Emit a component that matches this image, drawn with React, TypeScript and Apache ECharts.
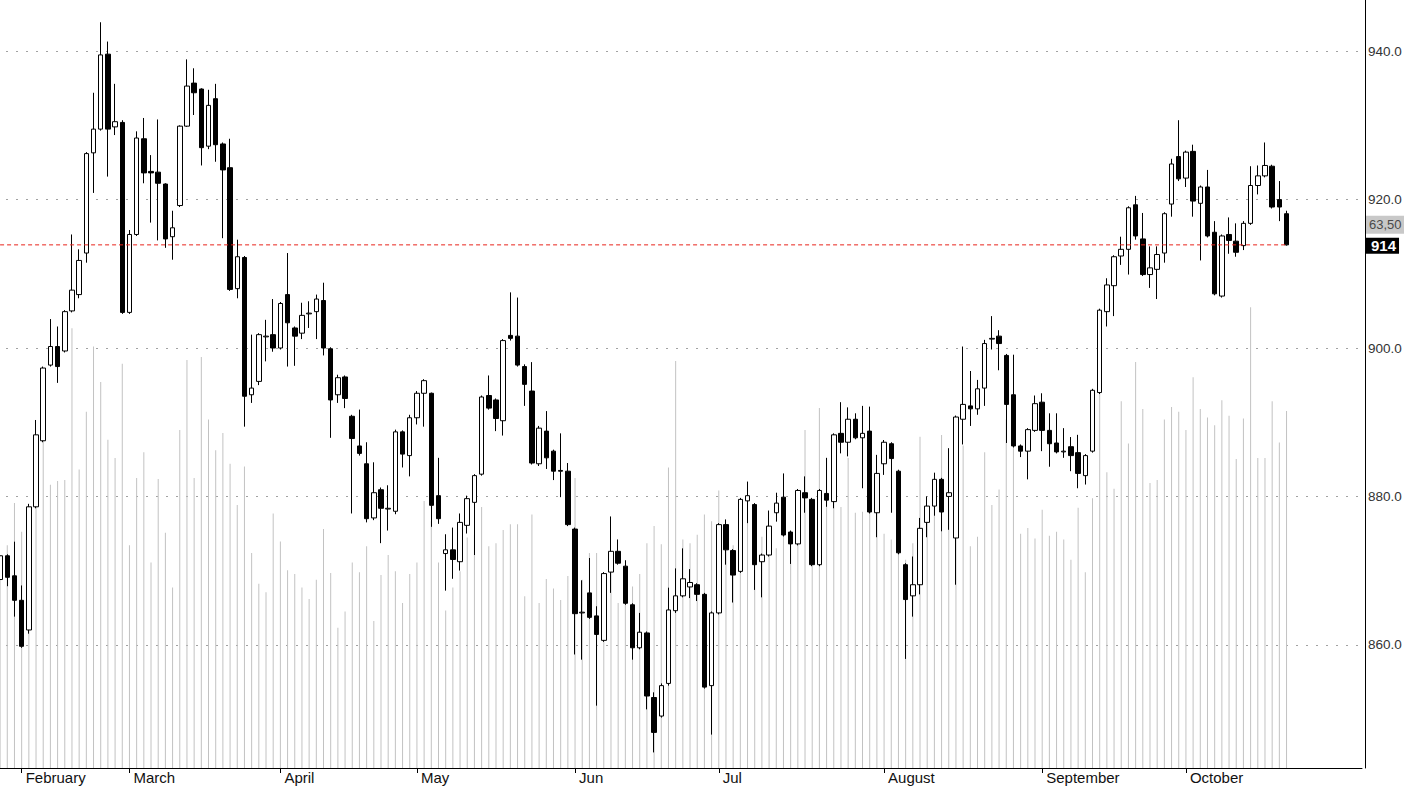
import React, { useEffect, useRef } from "react";
import * as echarts from "echarts";

// ---- data ----
const monthNames = ["January", "February", "March", "April", "May", "Jun", "Jul", "August", "September", "October"];
const monthCounts = [3, 15, 21, 19, 22, 20, 23, 22, 20, 15];

const opens = [
  868.8, 872.0, 869.3, 866.0, 862.0, 878.6, 887.5, 897.7, 900.2, 899.6,
  905.0, 907.2, 912.8, 926.3, 929.5, 939.6, 929.8, 930.4, 904.8, 915.3,
  928.2, 923.8, 923.7, 922.1, 915.0, 919.2, 929.9, 935.7, 934.9, 927.2,
  933.6, 927.5, 924.3, 908.0, 912.2, 893.7, 895.5, 901.5, 901.8, 900.0,
  907.2, 902.7, 902.0, 904.6, 904.9, 906.4, 899.9, 893.7, 896.1, 890.8,
  886.8, 884.4, 877.1, 880.9, 878.3, 878.0, 888.7, 885.5, 890.6, 893.9,
  893.9, 880.1, 872.3, 872.8, 871.2, 876.1, 879.2, 883.0, 893.6, 893.0,
  890.2, 901.7, 901.6, 897.5, 894.2, 884.4, 888.8, 886.1, 883.5, 883.4,
  875.6, 864.3, 867.0, 863.9, 860.6, 869.8, 872.6, 870.6, 865.4, 859.6,
  861.6, 852.9, 850.4, 854.8, 864.6, 866.6, 867.8, 868.1, 866.8, 854.5,
  864.3, 876.2, 872.7, 869.9, 879.4, 878.9, 871.2, 872.1, 877.8, 879.9,
  875.2, 873.6, 880.5, 879.6, 870.8, 880.4, 879.3, 888.5, 887.3, 890.4,
  887.9, 888.8, 877.8, 884.4, 887.1, 883.4, 870.8, 866.6, 868.1, 876.5,
  878.7, 882.3, 880.0, 874.4, 890.4, 892.2, 891.8, 894.6, 901.2, 901.6,
  899.0, 893.7, 886.8, 886.1, 888.9, 892.7, 888.9, 887.2, 886.0, 886.7,
  885.9, 882.8, 886.1, 894.0, 904.9, 908.4, 912.4, 913.3, 919.3, 914.7,
  909.9, 910.6, 912.8, 919.4, 925.8, 922.9, 926.5, 919.5, 921.7, 915.6,
  907.0, 915.3, 914.4, 913.8, 916.8, 921.9, 923.2, 924.5, 920.0, 918.1,
];

const highs = [
  872.5, 872.2, 873.9, 868.0, 879.0, 890.3, 897.5, 903.9, 902.9, 905.1,
  915.3, 913.3, 926.4, 934.4, 943.9, 941.3, 935.6, 930.7, 915.9, 929.2,
  931.0, 926.0, 930.8, 922.2, 918.5, 930.0, 938.9, 937.7, 935.0, 934.8,
  935.6, 927.7, 928.2, 914.6, 912.4, 901.8, 902.0, 903.8, 906.6, 906.2,
  912.8, 902.9, 906.1, 906.3, 907.2, 908.8, 900.1, 896.4, 896.3, 891.0,
  891.7, 887.3, 884.6, 881.2, 881.5, 889.0, 888.9, 891.0, 894.2, 895.8,
  894.0, 885.2, 874.9, 875.8, 877.7, 880.1, 883.0, 893.6, 896.3, 893.2,
  901.2, 907.5, 906.8, 897.8, 898.1, 889.5, 891.5, 886.3, 888.5, 884.5,
  875.8, 868.7, 871.7, 865.2, 869.8, 877.3, 874.2, 871.4, 865.6, 864.3,
  861.8, 853.6, 854.8, 867.7, 870.3, 873.0, 870.2, 868.3, 867.0, 864.5,
  876.4, 876.9, 872.9, 879.8, 882.0, 879.1, 872.3, 878.1, 880.5, 883.1,
  875.4, 881.0, 882.7, 879.8, 881.0, 885.2, 888.5, 892.7, 892.0, 891.2,
  892.2, 892.1, 885.6, 887.6, 887.3, 883.6, 871.0, 871.9, 877.1, 880.0,
  883.2, 882.5, 886.5, 890.9, 900.2, 896.9, 895.7, 901.1, 904.3, 902.4,
  899.2, 899.1, 887.0, 889.2, 893.6, 893.9, 891.2, 891.2, 889.2, 888.0,
  888.3, 885.7, 894.5, 905.3, 909.4, 912.5, 915.0, 919.1, 920.5, 918.2,
  913.7, 913.7, 918.3, 925.5, 930.7, 926.6, 927.4, 921.9, 924.0, 917.1,
  915.3, 917.6, 916.8, 917.1, 924.5, 924.6, 927.7, 924.7, 922.5, 918.5,
];

const lows = [
  863.4, 867.9, 863.8, 859.6, 861.5, 878.4, 887.3, 897.5, 895.3, 899.4,
  904.8, 906.7, 911.5, 920.9, 929.3, 923.1, 928.7, 904.6, 904.6, 915.1,
  922.2, 916.9, 914.5, 913.5, 911.9, 919.0, 929.8, 931.4, 924.6, 926.8,
  925.1, 914.8, 907.7, 906.7, 889.4, 892.6, 895.0, 898.2, 899.5, 899.8,
  897.5, 897.6, 901.2, 902.7, 901.2, 899.0, 887.9, 892.6, 891.9, 877.7,
  885.5, 876.5, 876.8, 873.7, 875.4, 877.6, 883.9, 882.7, 889.7, 889.4,
  875.9, 876.3, 867.3, 868.9, 870.0, 875.0, 872.1, 882.8, 891.7, 888.8,
  888.2, 901.0, 897.5, 892.2, 884.3, 884.1, 883.7, 882.2, 879.9, 876.0,
  858.7, 858.0, 863.5, 851.8, 860.4, 867.0, 870.8, 865.4, 858.0, 859.4,
  851.3, 845.5, 850.2, 854.5, 864.3, 866.4, 866.3, 865.9, 854.1, 847.9,
  864.1, 870.8, 865.7, 869.7, 876.4, 867.4, 866.4, 871.9, 876.6, 874.6,
  870.9, 873.4, 877.8, 870.6, 870.6, 878.6, 878.4, 885.8, 885.4, 887.7,
  881.1, 877.7, 874.5, 882.9, 877.8, 872.2, 858.1, 863.8, 866.8, 874.5,
  877.4, 875.3, 875.5, 868.1, 887.0, 889.5, 891.0, 892.2, 899.8, 897.0,
  887.2, 886.6, 885.3, 882.3, 888.7, 886.1, 884.0, 885.8, 885.2, 883.4,
  881.1, 881.6, 885.9, 893.8, 902.9, 904.3, 911.2, 909.9, 914.6, 909.7,
  908.1, 906.6, 911.5, 917.7, 922.5, 921.7, 917.7, 911.8, 914.9, 907.1,
  906.8, 912.7, 912.3, 913.2, 916.6, 920.7, 923.0, 918.8, 917.1, 913.8,
];

const closes = [
  872.0, 869.1, 866.0, 859.8, 878.6, 888.3, 897.3, 900.2, 897.5, 904.9,
  907.8, 911.8, 926.2, 929.5, 939.5, 929.5, 930.5, 904.8, 915.3, 928.3,
  923.6, 923.6, 922.2, 914.7, 916.2, 929.9, 935.3, 934.4, 927.0, 932.7,
  927.4, 924.0, 907.9, 912.3, 893.5, 894.6, 901.8, 901.6, 900.0, 906.0,
  903.4, 901.6, 904.4, 904.7, 906.6, 900.0, 893.0, 896.0, 893.2, 887.8,
  885.8, 877.0, 880.5, 878.4, 878.4, 888.7, 885.7, 890.6, 893.9, 895.6,
  878.8, 877.0, 872.8, 871.5, 876.5, 879.7, 882.8, 893.4, 891.9, 890.5,
  901.0, 901.3, 897.7, 895.1, 884.5, 889.2, 885.2, 883.4, 883.4, 876.2,
  864.2, 864.4, 863.7, 861.4, 869.6, 872.6, 871.0, 865.6, 859.6, 861.7,
  853.1, 848.2, 854.5, 864.7, 866.6, 868.9, 868.4, 866.8, 854.3, 864.3,
  876.2, 872.8, 869.4, 879.6, 880.1, 870.8, 872.1, 876.0, 879.1, 874.8,
  873.6, 880.8, 879.8, 870.8, 880.8, 879.5, 888.3, 887.3, 890.4, 887.9,
  888.5, 877.9, 883.1, 887.3, 885.1, 872.4, 866.1, 868.1, 875.7, 878.7,
  882.3, 877.9, 880.5, 890.7, 892.4, 891.8, 894.5, 900.6, 901.3, 900.6,
  892.4, 886.8, 886.1, 889.0, 892.5, 888.9, 887.1, 886.0, 886.1, 885.5,
  883.1, 885.5, 894.3, 905.1, 908.5, 912.3, 913.3, 918.9, 915.1, 909.9,
  910.8, 912.6, 918.1, 924.8, 922.8, 926.4, 919.8, 921.7, 915.1, 907.3,
  915.1, 914.5, 912.9, 916.8, 921.9, 923.2, 924.6, 919.0, 919.0, 913.9,
];

const volumes = [
  22.2, 23.2, 27.6, 24.6, 21.7, 30.0, 35.2, 29.5, 29.9, 30.0,
  45.8, 31.1, 37.1, 43.9, 40.2, 34.2, 32.3, 42.1, 23.2, 30.2,
  32.9, 21.4, 30.1, 24.5, 18.8, 35.2, 42.5, 30.2, 42.8, 36.3,
  33.1, 34.9, 31.7, 27.4, 31.4, 22.4, 19.2, 18.3, 26.5, 23.6,
  20.6, 20.2, 18.8, 17.6, 19.6, 24.9, 20.3, 14.6, 16.3, 21.4,
  20.4, 23.1, 15.3, 20.1, 22.2, 20.5, 17.2, 20.2, 21.4, 27.8,
  25.7, 21.4, 16.4, 18.8, 20.5, 24.0, 24.3, 27.2, 23.1, 23.4,
  24.8, 25.4, 25.4, 17.9, 26.4, 17.2, 19.7, 18.7, 17.5, 20.0,
  30.2, 19.6, 22.4, 22.4, 17.5, 22.3, 17.2, 20.0, 18.9, 20.2,
  23.4, 25.2, 23.3, 31.3, 42.4, 23.8, 23.4, 24.3, 26.4, 25.7,
  28.9, 24.8, 23.2, 25.8, 25.8, 24.8, 24.1, 23.8, 22.9, 25.3,
  23.2, 25.8, 35.2, 26.9, 37.5, 32.3, 30.0, 27.2, 32.3, 26.6,
  26.7, 27.9, 26.9, 24.4, 23.8, 24.8, 21.7, 23.4, 34.5, 26.7,
  27.9, 34.7, 26.9, 31.0, 33.6, 23.1, 24.1, 32.9, 27.4, 29.0,
  36.3, 33.5, 24.4, 25.0, 23.9, 26.9, 24.2, 24.6, 23.8, 21.7,
  27.1, 20.4, 28.1, 40.4, 30.8, 29.1, 38.2, 33.8, 42.3, 37.4,
  29.7, 30.0, 36.3, 37.6, 37.1, 35.2, 40.7, 37.4, 36.5, 35.7,
  38.3, 36.7, 32.2, 36.4, 48.0, 32.3, 32.3, 38.2, 33.9, 37.2,
];

const sideValueLabel = "63,50";
const priceMin = 843.4;
const priceMax = 946.9;
const volumeMax = 80;
const emptySlots = 10;

// ---- layout constants ----
const WIDTH = 1404;
const HEIGHT = 789;
const GRID_LEFT = -3.5;
const GRID_RIGHT = 42;
const AXIS_OFFSET = 3;
const FONT = "'Liberation Sans', Arial, sans-serif";
const RED = "#e8231b";

// ---- derived ----
const categories: string[] = [];
const monthStart = new Map<number, string>();
monthNames.forEach((m, mi) => {
  for (let d = 0; d < monthCounts[mi]; d++) {
    if (d === 0 && mi > 0) monthStart.set(categories.length, m);
    categories.push(`${m} ${d + 1}`);
  }
});
for (let k = 0; k < emptySlots; k++) categories.push(`slot-${k}`);

const candleData = opens.map((o, i) => [o, closes[i], lows[i], highs[i]]);
const lastIndex = closes.length - 1;
const lastClose = closes[lastIndex];
const lastCloseLine = [
  [categories[0], lastClose],
  [categories[lastIndex], lastClose],
];

export default function App() {
  const ref = useRef<HTMLDivElement>(null);

  useEffect(() => {
    if (!ref.current) return;
    const chart = echarts.init(ref.current, undefined, { renderer: "svg" });
    chart.setOption({
      animation: false,
      backgroundColor: "#ffffff",
      textStyle: { fontFamily: FONT },
      grid: {
        left: GRID_LEFT,
        right: GRID_RIGHT,
        top: 0,
        bottom: 21,
        containLabel: false,
        outerBoundsMode: "none",
      },
      xAxis: {
        type: "category",
        data: categories,
        boundaryGap: true,
        axisLine: { show: true, onZero: false, lineStyle: { color: "#000", width: 1 } },
        axisTick: {
          show: true,
          alignWithLabel: true,
          length: 5,
          interval: (i: number) => monthStart.has(i),
          lineStyle: { color: "#000", width: 1 },
        },
        axisLabel: {
          show: true,
          interval: (i: number) => monthStart.has(i),
          formatter: (_v: string, i: number) => monthStart.get(i) ?? "",
          align: "left",
          padding: [0, 0, 0, 4],
          margin: 2,
          fontSize: 15,
          color: "#111",
          fontFamily: FONT,
        },
        splitLine: { show: false },
      },
      yAxis: [
        {
          type: "value",
          position: "right",
          offset: AXIS_OFFSET,
          min: priceMin,
          max: priceMax,
          splitNumber: 5,
          axisLine: { show: true, lineStyle: { color: "#000", width: 1 } },
          axisTick: { show: false },
          axisLabel: {
            showMinLabel: false,
            showMaxLabel: false,
            formatter: (v: number) => v.toFixed(1),
            margin: 3,
            fontSize: 13.5,
            color: "#333",
            fontFamily: FONT,
          },
          splitLine: {
            show: true,
            showMinLine: false,
            showMaxLine: false,
            lineStyle: { color: "#444", type: [1, 9], width: 1 },
          },
        },
        {
          type: "value",
          min: 0,
          max: volumeMax,
          show: false,
          splitLine: { show: false },
        },
      ],
      series: [
        {
          type: "bar",
          name: "Volume",
          yAxisIndex: 1,
          data: volumes,
          barWidth: 1,
          itemStyle: { color: "#c2c2c2" },
          silent: true,
          z: 1,
        },
        {
          type: "candlestick",
          name: "Price",
          yAxisIndex: 0,
          data: candleData,
          barWidth: 5,
          itemStyle: {
            color: "#ffffff",
            color0: "#000000",
            borderColor: "#000000",
            borderColor0: "#000000",
            borderWidth: 1,
          },
          z: 2,
        },
        {
          type: "line",
          name: "Last close",
          yAxisIndex: 0,
          data: lastCloseLine,
          symbol: "none",
          silent: true,
          color: RED,
          lineStyle: { color: RED, type: [4, 3], width: 1 },
          itemStyle: { color: RED },
          z: 3,
        },
      ],
    });

    const py = chart.convertToPixel({ yAxisIndex: 0 }, lastClose) as number;
    const axisX = chart.getWidth() - GRID_RIGHT + AXIS_OFFSET;
    chart.setOption({
      graphic: {
        elements: [
          {
            type: "text",
            x: axisX + 1,
            y: py - 20,
            silent: true,
            style: {
              text: sideValueLabel,
              fill: "#4a4a4a",
              fontSize: 13,
              fontFamily: FONT,
              lineHeight: 14,
              verticalAlign: "middle",
              backgroundColor: "#c8c8c8",
              padding: [2, 6, 2, 3],
            },
          },
          {
            type: "text",
            x: axisX + 1,
            y: py + 1,
            silent: true,
            style: {
              text: String(Math.round(lastClose)),
              fill: "#ffffff",
              fontSize: 15,
              fontWeight: "bold",
              fontFamily: FONT,
              lineHeight: 15,
              verticalAlign: "middle",
              backgroundColor: "#000000",
              padding: [1, 3, 0, 5],
            },
          },
        ],
      },
    });

    return () => chart.dispose();
  }, []);

  return (
    <div
      ref={ref}
      style={{ position: "absolute", left: 0, top: 0, width: WIDTH, height: HEIGHT, background: "#fff" }}
    />
  );
}
